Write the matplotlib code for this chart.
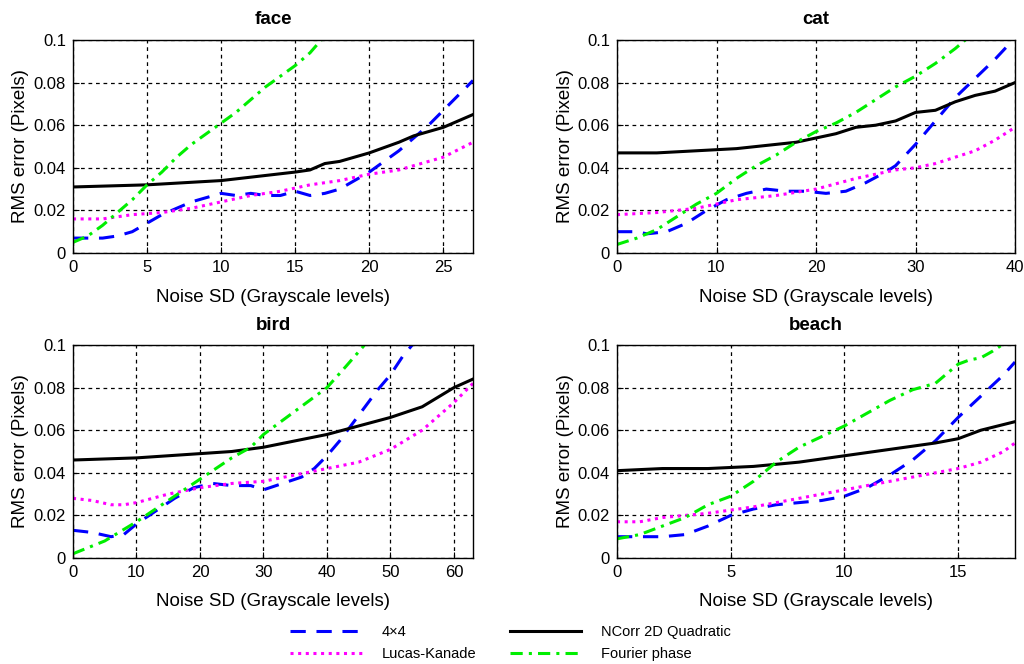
import matplotlib.pyplot as plt
import numpy as np

plt.rcParams['font.family'] = ['Liberation Sans', 'DejaVu Sans']

# ── Data ──────────────────────────────────────────────────────────────────────

face_x_green = [0, 1, 2, 3, 4, 5, 6, 7, 8, 9, 10, 11, 12, 13, 14, 15, 16, 17]
face_green   = [0.005, 0.008, 0.013, 0.019, 0.025, 0.032, 0.038, 0.045, 0.051, 0.056,
                0.061, 0.066, 0.072, 0.078, 0.083, 0.088, 0.094, 0.102]
face_x_black = [0, 5, 10, 15, 16, 17, 18, 20, 22, 23, 25, 27]
face_black   = [0.031, 0.032, 0.034, 0.038, 0.039, 0.042, 0.043, 0.047, 0.052, 0.055, 0.059, 0.065]
face_x_blue  = [0, 2, 3, 4, 5, 6, 7, 8, 9, 10, 11, 12, 13, 14, 15, 16, 17, 18, 19, 20,
                21, 22, 23, 24, 25, 26, 27]
face_blue    = [0.007, 0.007, 0.008, 0.010, 0.014, 0.018, 0.021, 0.024, 0.026, 0.028,
                0.027, 0.028, 0.027, 0.027, 0.029, 0.027, 0.028, 0.030, 0.034, 0.038,
                0.043, 0.048, 0.054, 0.060, 0.067, 0.074, 0.081]
face_x_mag   = [0, 2, 4, 6, 8, 10, 12, 14, 16, 18, 20, 22, 24, 25, 27]
face_mag     = [0.016, 0.016, 0.018, 0.019, 0.021, 0.024, 0.027, 0.029, 0.032, 0.034,
                0.037, 0.039, 0.043, 0.045, 0.052]

cat_x_green = [0, 2, 4, 6, 8, 10, 12, 14, 16, 18, 20, 22, 24, 26, 28, 30, 32, 34, 35.5]
cat_green   = [0.004, 0.007, 0.011, 0.017, 0.023, 0.028, 0.035, 0.041, 0.046, 0.052,
               0.057, 0.061, 0.066, 0.072, 0.078, 0.083, 0.089, 0.096, 0.102]
cat_x_black = [0, 4, 8, 12, 16, 18, 20, 22, 24, 26, 28, 30, 32, 34, 36, 38, 40]
cat_black   = [0.047, 0.047, 0.048, 0.049, 0.051, 0.052, 0.054, 0.056, 0.059, 0.060,
               0.062, 0.066, 0.067, 0.071, 0.074, 0.076, 0.080]
cat_x_blue  = [0, 2, 3, 5, 7, 9, 11, 13, 15, 17, 19, 21, 23, 25, 27, 28, 30, 32, 34,
               36, 38, 40]
cat_blue    = [0.010, 0.010, 0.009, 0.010, 0.014, 0.020, 0.025, 0.028, 0.030, 0.029,
               0.029, 0.028, 0.029, 0.033, 0.038, 0.041, 0.051, 0.062, 0.073, 0.082,
               0.091, 0.101]
cat_x_mag   = [0, 4, 8, 12, 16, 20, 24, 28, 30, 32, 34, 36, 38, 40]
cat_mag     = [0.018, 0.019, 0.021, 0.025, 0.027, 0.030, 0.035, 0.039, 0.040, 0.042,
               0.045, 0.048, 0.053, 0.059]

bird_x_green = [0, 5, 10, 15, 20, 25, 28, 30, 35, 40, 43, 46.5]
bird_green   = [0.002, 0.008, 0.017, 0.027, 0.037, 0.047, 0.052, 0.058, 0.069, 0.080,
                0.090, 0.102]
bird_x_black = [0, 10, 20, 25, 30, 35, 40, 45, 50, 55, 60, 63]
bird_black   = [0.046, 0.047, 0.049, 0.050, 0.052, 0.055, 0.058, 0.062, 0.066, 0.071,
                0.080, 0.084]
bird_x_blue  = [0, 3, 6, 8, 10, 13, 16, 19, 22, 25, 28, 30, 33, 36, 38, 40, 42, 44,
                46, 48, 50, 52, 54]
bird_blue    = [0.013, 0.012, 0.010, 0.011, 0.016, 0.022, 0.028, 0.033, 0.035, 0.034,
                0.034, 0.032, 0.035, 0.038, 0.042, 0.048, 0.055, 0.063, 0.071, 0.079,
                0.086, 0.095, 0.102]
bird_x_mag   = [0, 3, 6, 8, 10, 15, 20, 25, 30, 35, 40, 45, 50, 55, 60, 63]
bird_mag     = [0.028, 0.027, 0.025, 0.025, 0.026, 0.030, 0.033, 0.035, 0.036, 0.039,
                0.042, 0.045, 0.051, 0.060, 0.073, 0.082]

beach_x_green = [0, 1, 2, 3, 4, 5, 6, 7, 8, 9, 10, 11, 12, 13, 14, 15, 15.5, 16, 16.5, 17.2]
beach_green   = [0.009, 0.011, 0.015, 0.019, 0.025, 0.029, 0.036, 0.045, 0.052, 0.057,
                 0.062, 0.068, 0.074, 0.079, 0.082, 0.091, 0.093, 0.094, 0.097, 0.102]
beach_x_black = [0, 2, 4, 6, 8, 10, 12, 14, 15, 16, 17.5]
beach_black   = [0.041, 0.042, 0.042, 0.043, 0.045, 0.048, 0.051, 0.054, 0.056, 0.060, 0.064]
beach_x_blue  = [0, 1, 2, 3, 4, 5, 6, 7, 8, 9, 10, 11, 12, 13, 14, 15, 16, 17, 17.5]
beach_blue    = [0.010, 0.010, 0.010, 0.011, 0.015, 0.020, 0.023, 0.025, 0.026, 0.027,
                 0.029, 0.033, 0.039, 0.046, 0.055, 0.066, 0.076, 0.086, 0.092]
beach_x_mag   = [0, 1, 2, 4, 6, 8, 10, 12, 14, 15, 16, 17, 17.5]
beach_mag     = [0.017, 0.017, 0.019, 0.021, 0.024, 0.028, 0.032, 0.036, 0.040, 0.042,
                 0.045, 0.050, 0.054]

# ── Panel configuration ───────────────────────────────────────────────────────

PANELS = [
    ("face",  27,   np.arange(0, 26, 5),
     (face_x_blue, face_blue), (face_x_mag, face_mag),
     (face_x_black, face_black), (face_x_green, face_green)),
    ("cat",   40,   np.arange(0, 41, 10),
     (cat_x_blue, cat_blue), (cat_x_mag, cat_mag),
     (cat_x_black, cat_black), (cat_x_green, cat_green)),
    ("bird",  63,   np.arange(0, 61, 10),
     (bird_x_blue, bird_blue), (bird_x_mag, bird_mag),
     (bird_x_black, bird_black), (bird_x_green, bird_green)),
    ("beach", 17.5, np.arange(0, 16, 5),
     (beach_x_blue, beach_blue), (beach_x_mag, beach_mag),
     (beach_x_black, beach_black), (beach_x_green, beach_green)),
]

# axes rectangles in pixels (left, top, right, bottom) on a 1024x664 canvas
W, H = 1024, 664
RECTS = [(73, 40, 473, 253), (617, 40, 1015, 253),
         (73, 345, 473, 558), (617, 345, 1015, 558)]

fig = plt.figure(figsize=(W / 100, H / 100), dpi=100)

handles = {}
for (title, xmax, xticks, blue, mag, black, green), (l, t, r, b) in zip(PANELS, RECTS):
    ax = fig.add_axes([l / W, 1 - b / H, (r - l) / W, (b - t) / H])
    aw, ah = r - l, b - t

    hb, = ax.plot(*blue, color="#0000ff", lw=2.2, linestyle=(0, (5, 3.5)))
    hk, = ax.plot(*black, color="black", lw=2.2)
    hm, = ax.plot(*mag, color="#ff00ff", lw=2.2, linestyle=(0, (1, 1.5)))
    hg, = ax.plot(*green, color="#00ee00", lw=2.2, linestyle=(0, (4, 2, 1, 2)))
    handles = {"b": hb, "k": hk, "m": hm, "g": hg}

    ax.set_xlim(0, xmax)
    ax.set_ylim(0, 0.1)
    ax.set_xticks(xticks)
    ax.set_yticks([0, 0.02, 0.04, 0.06, 0.08, 0.1])
    ax.set_yticklabels(["0", "0.02", "0.04", "0.06", "0.08", "0.1"])
    ax.tick_params(direction="in", labelsize=12, length=4, pad=5)
    ax.grid(True, color="black", linestyle=(0, (3, 3)), linewidth=0.9)
    for s in ax.spines.values():
        s.set_linewidth(1.0)

    # title, axis labels placed at the pixel offsets seen in the reference
    ax.text(0.5, 1 + 20 / ah, title, transform=ax.transAxes, ha="center",
            va="center", fontsize=13.5, fontweight="bold")
    ax.set_xlabel("Noise SD (Grayscale levels)", fontsize=13.5)
    ax.xaxis.set_label_coords(0.5, -44 / ah)
    ax.xaxis.label.set_va("center")
    ax.set_ylabel("RMS error (Pixels)", fontsize=13.5)
    ax.yaxis.set_label_coords(-(l - (21 if l < 300 else 565)) / aw, 0.5)
    ax.yaxis.label.set_va("center")

fig.legend([handles["b"], handles["m"], handles["k"], handles["g"]],
           ["4\u00d74", "Lucas-Kanade", "NCorr 2D Quadratic", "Fourier phase"],
           ncol=2, frameon=False, loc="center", bbox_to_anchor=(0.4985, 1 - 643 / H),
           fontsize=10.5, handlelength=4.9, columnspacing=2.3, handletextpad=1.35,
           labelspacing=0.55, borderpad=0, borderaxespad=0)

plt.savefig("out.png", dpi=100)
